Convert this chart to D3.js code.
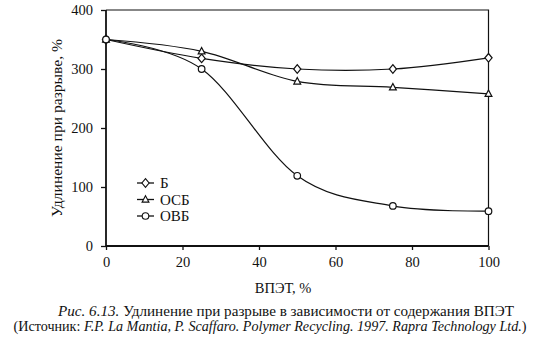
<!DOCTYPE html>
<html>
<head>
<meta charset="utf-8">
<script src="https://cdn.jsdelivr.net/npm/d3@7"></script>
<style>
  html, body { margin: 0; padding: 0; background: #fff; }
  svg { display: block; font-family: "Liberation Serif", "Times New Roman", serif; }
</style>
</head>
<body>
<svg id="chart" width="553" height="348"></svg>
<script>
// ВПЭТ content, %
const xValues = [0, 25, 50, 75, 100];
// Elongation at break, % for each blend
const seriesNames = ["Б", "ОСБ", "ОВБ"];
const valuesB   = [350, 318, 300, 300, 319];
const valuesOSB = [350, 330, 279, 269, 258];
const valuesOVB = [350, 300, 119, 68, 59];
const markerKinds = ["diamond", "triangle", "circle"];
const xTicks = [0, 20, 40, 60, 80, 100];
const yTicks = [0, 100, 200, 300, 400];

const yTitle = "Удлинение при разрыве, %";
const xTitle = "ВПЭТ, %";
const captionFig = "Рис. 6.13.";
const captionText = " Удлинение при разрыве в зависимости от содержания ВПЭТ";
const captionSource = "F.P. La Mantia, P. Scaffaro. Polymer Recycling. 1997. Rapra Technology Ltd.";

const svg = d3.select("#chart");
const plot = { left: 106, right: 488.5, top: 10, bottom: 246 };

const x = d3.scaleLinear().domain([0, 100]).range([plot.left, plot.right]);
const y = d3.scaleLinear().domain([0, 400]).range([plot.bottom, plot.top]);

// frame (top and right edges)
svg.append("path")
  .attr("d", `M${plot.left},${plot.top}H${plot.right}V${plot.bottom}`)
  .attr("fill", "none").attr("stroke", "#111").attr("stroke-width", 1.2);

// axes
const xAxis = svg.append("g")
  .attr("transform", `translate(0,${plot.bottom})`)
  .call(d3.axisBottom(x).tickValues(xTicks).tickSize(4).tickPadding(7).tickFormat(d3.format("d")));
const yAxis = svg.append("g")
  .attr("transform", `translate(${plot.left},0)`)
  .call(d3.axisLeft(y).tickValues(yTicks).tickSize(5).tickPadding(8).tickFormat(d3.format("d")));

[xAxis, yAxis].forEach(g => {
  g.select(".domain").attr("stroke", "#111").attr("stroke-width", 1.8);
  g.selectAll(".tick line").attr("stroke", "#111").attr("stroke-width", 1.3);
  g.selectAll(".tick text").attr("fill", "#111")
    .style("font-family", "Liberation Serif, serif").style("font-size", "14.5px");
});
xAxis.select(".domain").attr("d", `M${plot.left},0H${plot.right}`);
yAxis.select(".domain").attr("d", `M0,${plot.top}V${plot.bottom}`);

// series lines
const series = [valuesB, valuesOSB, valuesOVB].map((vals, i) => ({
  name: seriesNames[i],
  kind: markerKinds[i],
  points: xValues.map((xv, j) => ({ x: xv, y: vals[j] }))
}));

const line = d3.line()
  .x(d => x(d.x)).y(d => y(d.y))
  .curve(d3.curveCatmullRom.alpha(0));

function marker(sel, kind, cx, cy) {
  if (kind === "circle") {
    sel.append("circle").attr("cx", cx).attr("cy", cy).attr("r", 3.3);
  } else if (kind === "diamond") {
    const rx = 3.6, ry = 4.3;
    sel.append("path").attr("d", `M${cx},${cy - ry}L${cx + rx},${cy}L${cx},${cy + ry}L${cx - rx},${cy}Z`);
  } else {
    const r = 3.8;
    sel.append("path").attr("d", `M${cx},${cy - r}L${cx + r * 0.9},${cy + r * 0.7}L${cx - r * 0.9},${cy + r * 0.7}Z`);
  }
}

const g = svg.append("g");
series.forEach(s => {
  g.append("path").datum(s.points)
    .attr("d", line).attr("fill", "none")
    .attr("stroke", "#111").attr("stroke-width", 1.2);
});
series.forEach(s => {
  const mg = g.append("g").attr("fill", "#fff").attr("stroke", "#111").attr("stroke-width", 1.2);
  s.points.forEach(p => marker(mg, s.kind, x(p.x), y(p.y)));
});

// legend
const legend = svg.append("g");
series.forEach((s, i) => {
  const ly = 183 + i * 16.5;
  legend.append("line").attr("x1", 137).attr("x2", 154).attr("y1", ly).attr("y2", ly)
    .attr("stroke", "#111").attr("stroke-width", 1.3);
  const mg = legend.append("g").attr("fill", "#fff").attr("stroke", "#111").attr("stroke-width", 1.1);
  marker(mg, s.kind, 145.5, ly);
  legend.append("text").attr("x", 160).attr("y", ly + 5)
    .attr("font-size", 15).attr("fill", "#111").text(s.name);
});

// axis titles
svg.append("text")
  .attr("transform", `translate(62,128) rotate(-90)`)
  .attr("text-anchor", "middle").attr("font-size", 14.5).attr("fill", "#111")
  .attr("textLength", 178).attr("lengthAdjust", "spacingAndGlyphs")
  .text(yTitle);
svg.append("text")
  .attr("x", 283).attr("y", 293)
  .attr("text-anchor", "middle").attr("font-size", 14.5).attr("fill", "#111")
  .text(xTitle);

// caption
const c1 = svg.append("text").attr("x", 286).attr("y", 316)
  .attr("text-anchor", "middle").attr("font-size", 14).attr("fill", "#111")
  .attr("textLength", 456).attr("lengthAdjust", "spacingAndGlyphs");
c1.append("tspan").attr("font-style", "italic").text(captionFig);
c1.append("tspan").text(captionText);

const c2 = svg.append("text").attr("x", 270).attr("y", 331)
  .attr("text-anchor", "middle").attr("font-size", 14).attr("fill", "#111")
  .attr("textLength", 513).attr("lengthAdjust", "spacingAndGlyphs");
c2.append("tspan").text("(Источник: ");
c2.append("tspan").attr("font-style", "italic").text(captionSource);
c2.append("tspan").text(")");
</script>
</body>
</html>
